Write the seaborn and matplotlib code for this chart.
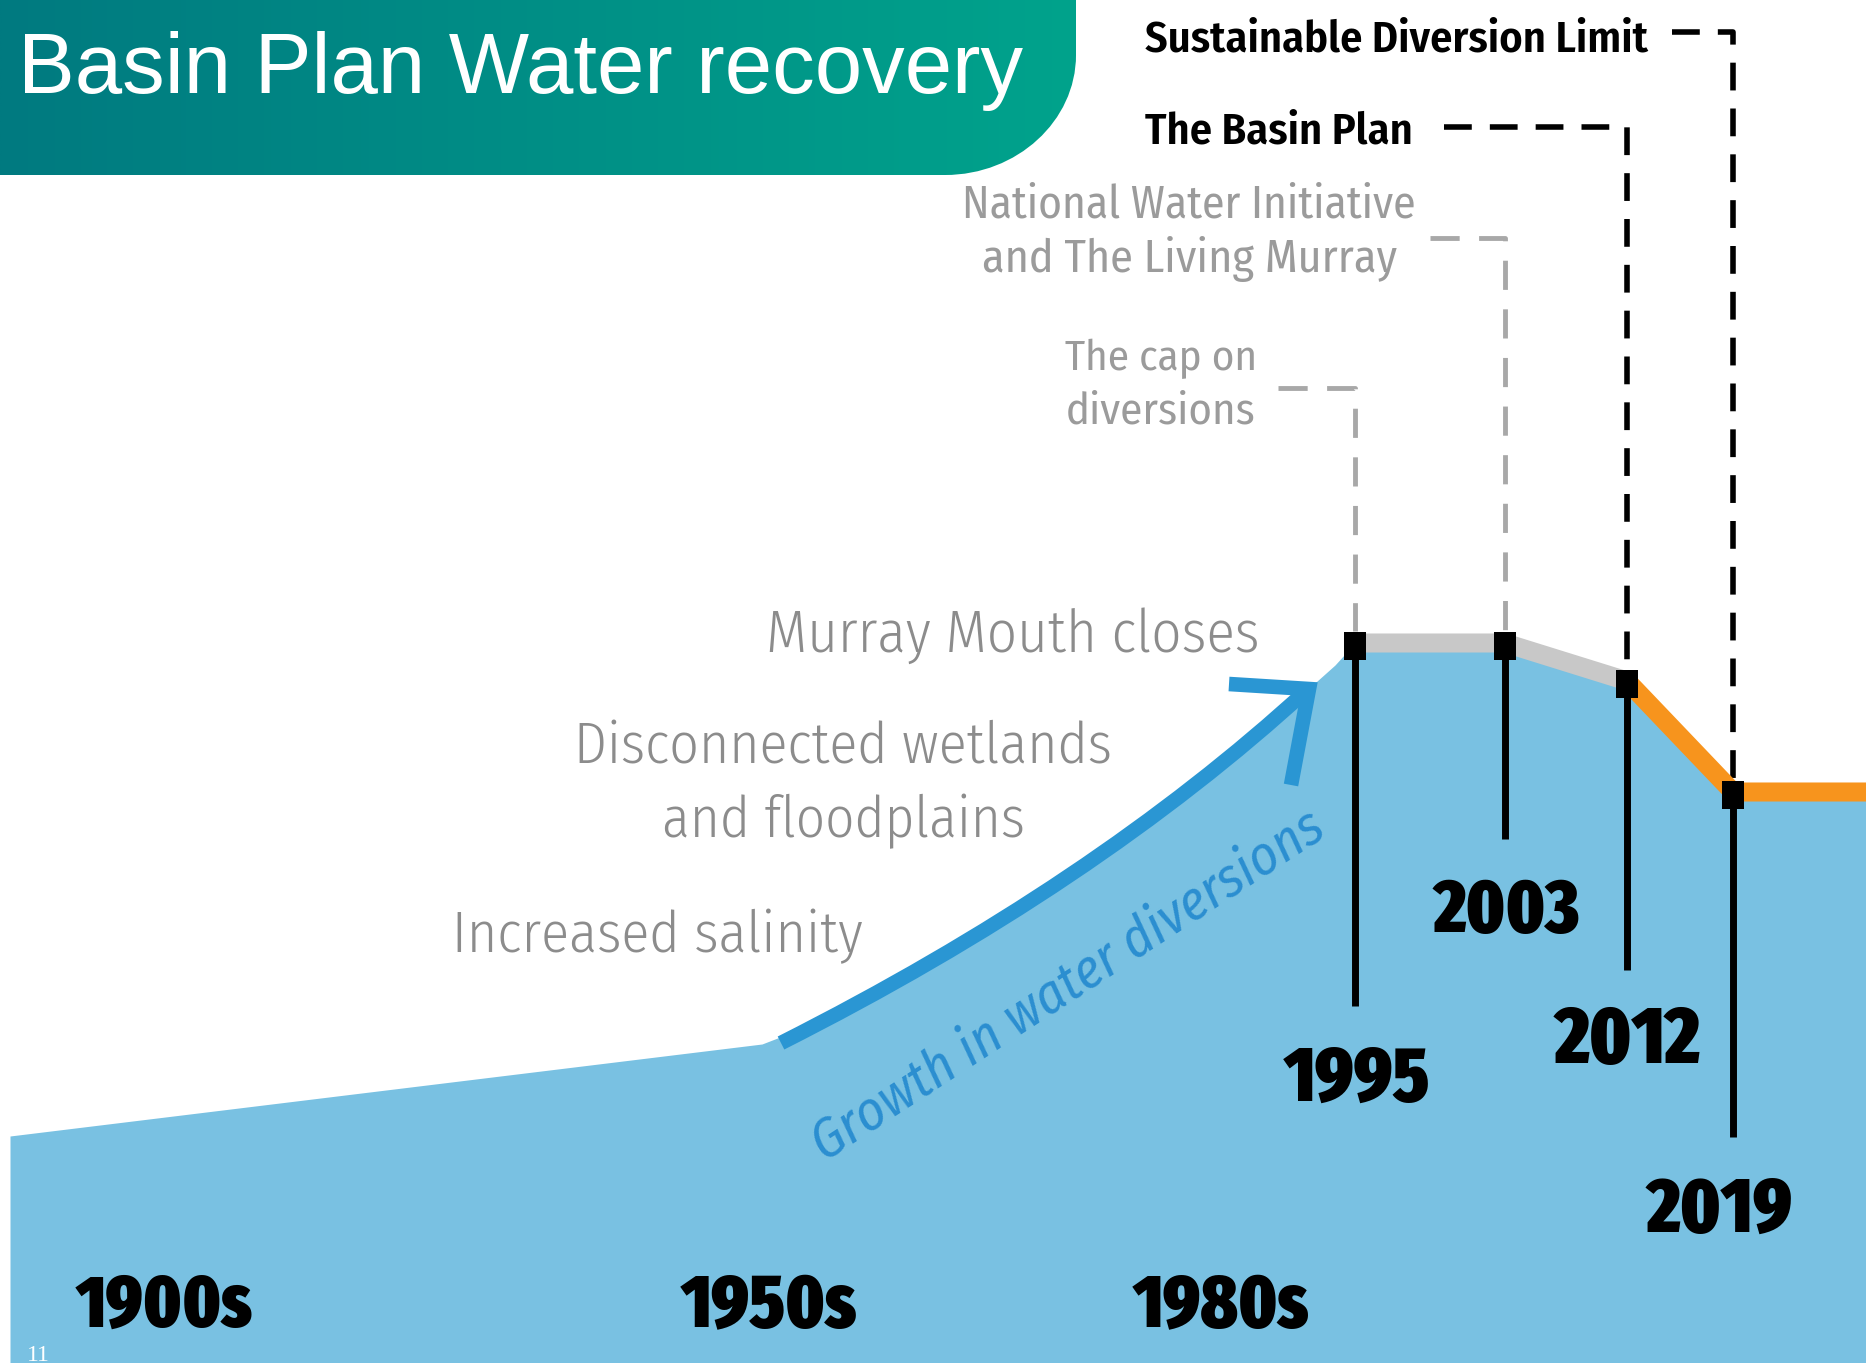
import numpy as np
import pandas as pd
import matplotlib
matplotlib.use("Agg")
import matplotlib.pyplot as plt
import seaborn as sns
from matplotlib import font_manager
from matplotlib.font_manager import FontProperties
from matplotlib.path import Path
from matplotlib.patches import PathPatch

# ---------------- data (canvas units, y grows downward) ----------------
profile_x = [10, 762, 842, 904, 960, 1015, 1069, 1120, 1170, 1218, 1263, 1307, 1335, 1355, 1505, 1627, 1733, 1866]
profile_y = [1136, 1044, 1013, 981, 949, 915, 877, 840, 803, 767, 727, 690, 665, 643, 643, 681, 792, 792]

milestone_years = ["1995", "2003", "2012", "2019"]
milestone_x = [1355, 1505, 1627, 1733]
milestone_y = [643, 643, 681, 792]
stem_bottom = [1006, 839, 970, 1137]
year_label_x = [1357, 1507, 1628, 1720]
year_label_base = [1101, 932, 1063, 1232]

policy_line1 = ["The cap on", "National Water Initiative", "The Basin Plan", "Sustainable Diversion Limit"]
policy_line2 = ["diversions", "and The Living Murray", "", ""]
policy_leader_y = [388, 238, 127, 32]
policy_leader_start = [1278, 1430, 1444, 1672]

impact_lines = ["Murray Mouth closes", "Disconnected wetlands", "and floodplains", "Increased salinity"]

decades = ["1900s", "1950s", "1980s"]
decade_x = [164, 769, 1221]

title = "Basin Plan Water recovery"
arrow_label = "Growth in water diversions"
page_number = "11"

# ---------------- styling ----------------
BLUE = "#79C1E2"
ARROW = "#2A96D3"
GREY_BAND = "#C8C8C8"
ORANGE = "#F7941D"
GREY_TXT = "#8C8C8C"
GREY_TXT2 = "#9B9B9B"
GREY_DASH = "#A8A8A8"

sns.set_theme(style="white")
plt.rcParams["lines.scale_dashes"] = False

TTF = font_manager.fontManager.ttflist


def wnum(w):
    if isinstance(w, (int, float)):
        return int(w)
    table = {"ultralight": 200, "light": 300, "normal": 400, "regular": 400, "book": 400,
             "medium": 500, "semibold": 600, "demibold": 600, "bold": 700, "heavy": 800,
             "extra bold": 800, "black": 900}
    return table.get(str(w).lower(), 400)


def pick(prefs, style="normal"):
    for fam, w in prefs:
        cands = [f for f in TTF if f.name == fam and f.style == style and "[" not in f.fname]
        cands = [f for f in cands if abs(wnum(f.weight) - w) <= 100]
        if cands:
            best = min(cands, key=lambda f: abs(wnum(f.weight) - w))
            return FontProperties(fname=best.fname)
    return FontProperties(family="DejaVu Sans", weight=prefs[0][1], style=style)


F_HEAVY = pick([("Fira Sans Extra Condensed", 900), ("Fira Sans Condensed", 900),
                ("Barlow Condensed", 800), ("Open Sans Condensed", 700), ("PT Sans Narrow", 700),
                ("IBM Plex Sans Condensed", 700)])
F_SEMI = pick([("Fira Sans Condensed", 600), ("Barlow Semi Condensed", 600), ("Open Sans Condensed", 700),
               ("PT Sans Narrow", 700), ("IBM Plex Sans Condensed", 600)])
F_LIGHT = pick([("Fira Sans Condensed", 300), ("Barlow Semi Condensed", 300), ("PT Sans Narrow", 400),
                ("IBM Plex Sans Condensed", 300)])
F_REG = pick([("Fira Sans Condensed", 400), ("Barlow Semi Condensed", 400), ("PT Sans Narrow", 400),
              ("IBM Plex Sans Condensed", 400)])
F_ITAL = pick([("Fira Sans Condensed", 400), ("Fira Sans", 400), ("Open Sans", 400),
               ("Liberation Sans", 400)], style="italic")
F_TITLE = pick([("Liberation Sans", 400), ("Arimo", 400)])
F_SERIF = pick([("Liberation Serif", 400), ("Tinos", 400)])

plt.rcParams["font.family"] = ["Liberation Sans", "DejaVu Sans"]

W, H = 1866, 1363
fig = plt.figure(figsize=(W / 100, H / 100), dpi=100)
ax = fig.add_axes([0, 0, 1, 1])
ax.set_xlim(0, W)
ax.set_ylim(H, 0)
ax.axis("off")

# ---------------- blue diversion area ----------------
ax.fill_between(profile_x, profile_y, H, color=BLUE, lw=0, zorder=1)

# grey (1995-2012) and orange (2012 onwards) bands on top of the area
band_grey = pd.DataFrame({"x": milestone_x[:3], "y": milestone_y[:3]})
band_orange = pd.DataFrame({"x": milestone_x[2:] + [profile_x[-1]], "y": milestone_y[2:] + [profile_y[-1]]})
sns.lineplot(data=band_grey, x="x", y="y", sort=False, estimator=None, color=GREY_BAND,
             lw=13.7, solid_capstyle="butt", solid_joinstyle="miter", ax=ax, zorder=3)
sns.lineplot(data=band_orange, x="x", y="y", sort=False, estimator=None, color=ORANGE,
             lw=13.7, solid_capstyle="butt", solid_joinstyle="miter", ax=ax, zorder=3)

# stems
stems = pd.DataFrame({
    "x": [v for x in milestone_x for v in (x, x)],
    "y": [v for y, b in zip(milestone_y, stem_bottom) for v in (y, b)],
    "year": [v for yr in milestone_years for v in (yr, yr)],
})
sns.lineplot(data=stems, x="x", y="y", units="year", estimator=None, sort=False,
             color="black", lw=5, solid_capstyle="butt", ax=ax, zorder=4)

# milestone markers
rect = Path([(-0.41, -0.5), (0.41, -0.5), (0.41, 0.5), (-0.41, 0.5), (-0.41, -0.5)],
            [Path.MOVETO, Path.LINETO, Path.LINETO, Path.LINETO, Path.CLOSEPOLY])
sns.scatterplot(x=milestone_x, y=[y + 3 for y in milestone_y], marker=rect, s=380, color="black",
                linewidth=0, ax=ax, zorder=6)

# policy leader lines
for i in range(4):
    mx, my = milestone_x[i], milestone_y[i]
    black = i >= 2
    ax.plot([policy_leader_start[i], mx, mx], [policy_leader_y[i], policy_leader_y[i], my - 12],
            color="black" if black else GREY_DASH, lw=4 if black else 3.5,
            linestyle=(0, (20, 13)) if black else (0, (21, 14)), zorder=2,
            solid_joinstyle="miter", dash_capstyle="butt")

# growth arrow
P0, C, P2 = (781, 1043), (1094, 885), (1307, 690)
arrow_path = Path([P0, C, P2], [Path.MOVETO, Path.CURVE3, Path.CURVE3])
ax.add_patch(PathPatch(arrow_path, facecolor="none", edgecolor=ARROW, lw=10.5,
                       capstyle="butt", zorder=5))
ax.plot([1229, 1309, 1291], [684, 689, 785], color=ARROW, lw=10.5,
        solid_joinstyle="miter", solid_capstyle="butt", zorder=5)

# ---------------- title banner ----------------
bv = [(0, 0), (1076, 0), (1076, 55), (1076, 121), (1017, 175), (945, 175), (0, 175), (0, 0)]
bc = [Path.MOVETO, Path.LINETO, Path.LINETO, Path.CURVE4, Path.CURVE4, Path.CURVE4, Path.LINETO, Path.CLOSEPOLY]
banner = PathPatch(Path(bv, bc), facecolor="none", edgecolor="none", zorder=7)
ax.add_patch(banner)
c0 = np.array([0, 122, 128]) / 255
c1 = np.array([0, 163, 140]) / 255
grad = np.linspace(0, 1, 256)[None, :, None]
img = c0 + (c1 - c0) * grad
im = ax.imshow(img, extent=[0, 1080, 176, 0], aspect="auto", zorder=7, interpolation="bilinear")
im.set_clip_path(banner)
ax.set_xlim(0, W)
ax.set_ylim(H, 0)

texts = []


def put(x, y, s, width, fp, size, ha="left", **kw):
    p = fp.copy()
    p.set_size(size)
    t = ax.text(x, y, s, ha=ha, va="baseline", fontproperties=p, **kw)
    texts.append((t, width))
    return t


put(18, 93, title, 1005, F_TITLE, 61, color="white", zorder=8)

# policy labels
put(1145, 51, policy_line1[3], 503, F_SEMI, 34, color="black")
put(1145, 143, policy_line1[2], 268, F_SEMI, 34, color="black")
put(1189, 218, policy_line1[1], 454, F_REG, 37, ha="center", color=GREY_TXT2)
put(1189, 272, policy_line2[1], 415, F_REG, 37, ha="center", color=GREY_TXT2)
put(1161, 370, policy_line1[0], 192, F_REG, 37, ha="center", color=GREY_TXT2)
put(1161, 423, policy_line2[0], 190, F_REG, 37, ha="center", color=GREY_TXT2)

# impacts
put(1260, 652, impact_lines[0], 493, F_LIGHT, 46, ha="right", color=GREY_TXT)
put(843, 764, impact_lines[1], 539, F_LIGHT, 46, ha="center", color=GREY_TXT)
put(843, 837, impact_lines[2], 362, F_LIGHT, 46, ha="center", color=GREY_TXT)
put(452, 952, impact_lines[3], 411, F_LIGHT, 46, color=GREY_TXT)

# years
for yr, x, b in zip(milestone_years, year_label_x, year_label_base):
    put(x, b, yr, 146, F_HEAVY, 56, ha="center", color="black", zorder=8)
for d, x in zip(decades, decade_x):
    put(x, 1327, d, 176, F_HEAVY, 56, ha="center", color="black", zorder=8)

# arrow label
gp = F_ITAL.copy()
gp.set_size(34)
g = ax.text(1068, 986, arrow_label, rotation=0, rotation_mode="anchor", ha="center", va="center",
            fontproperties=gp, color="#2B8ED0", zorder=5)

# page number
sp = F_SERIF.copy()
sp.set_size(17)
ax.text(27, 1361, page_number, ha="left", va="baseline", fontproperties=sp, color="white", zorder=8)

fig.canvas.draw()
r = fig.canvas.get_renderer()
for t, w in texts:
    bb = t.get_window_extent(renderer=r)
    t.set_fontsize(t.get_fontsize() * w / bb.width)
bb = g.get_window_extent(renderer=r)
g.set_fontsize(g.get_fontsize() * 600 / bb.width)
g.set_rotation(33)

fig.savefig("out.png", dpi=100)
